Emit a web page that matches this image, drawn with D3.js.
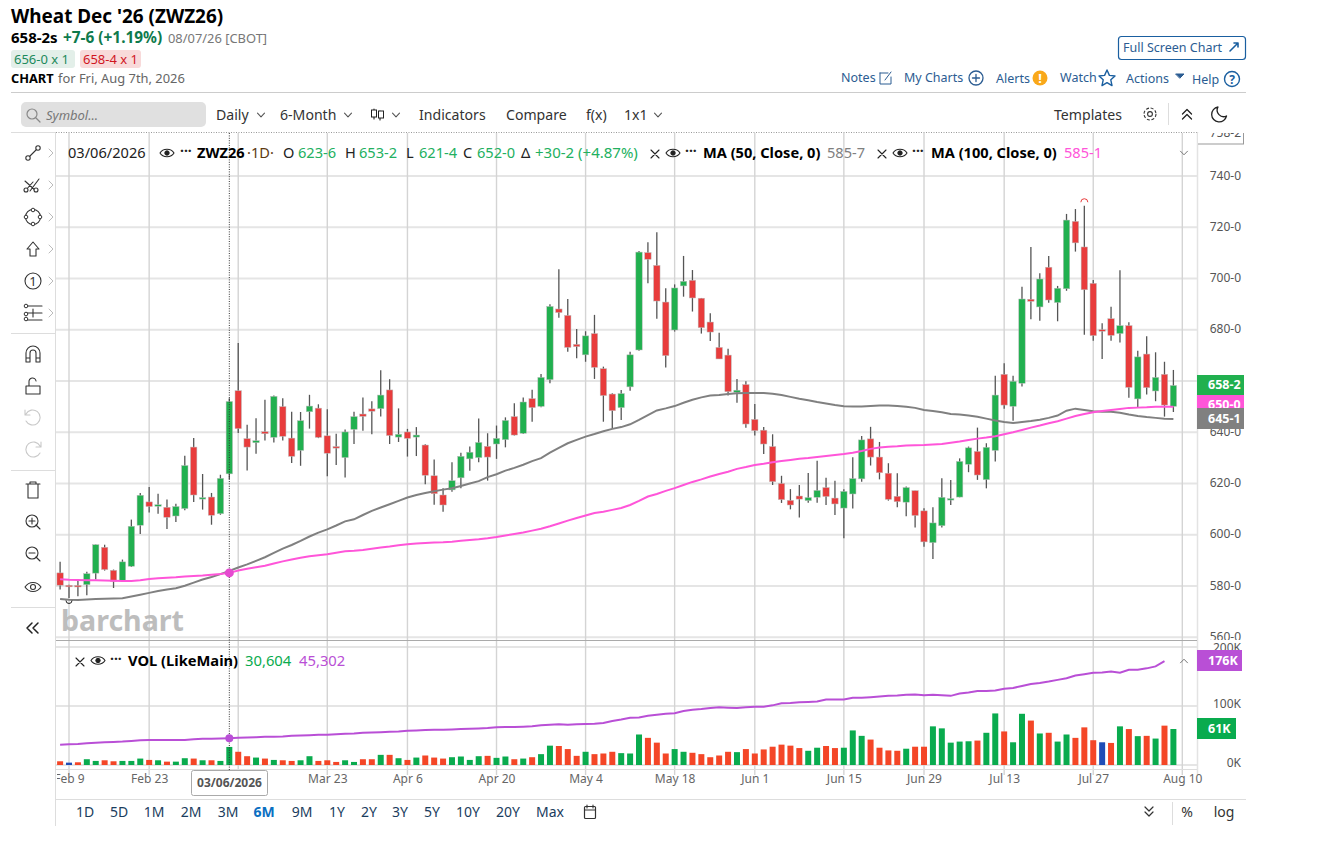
<!DOCTYPE html>
<html lang="en">
<head>
<meta charset="utf-8">
<title>Wheat Dec '26 (ZWZ26)</title>
<script src="https://d3js.org/d3.v7.min.js"></script>
<style>
  body { margin: 0; background: #fff; }
  text { font-family: "Noto Sans", sans-serif; }
</style>
</head>
<body>
<div id="chart"></div>
<script>
// candles, one entry per trading day from Feb 6 to Aug 7
const opens = [585.1,580.25,580.2,580.5,585,595.1,586.1,582.2,587.7,603.7,
  612.8,611.1,610.7,607.3,610.2,634.2,613.9,614.7,608.2,623.75,
  656.2,637.5,635.9,640.2,638,650,637.7,632.9,648,649.4,
  638.6,634.4,630.1,641.1,647.1,649.1,649.2,656.5,638.1,640.1,
  638.1,635,623,615.5,617.5,622.2,629.6,630.1,634.5,635.4,
  637.1,646.1,639.6,653.1,650.1,660.5,688.1,685.6,674.3,670.2,
  678.5,664.8,654.9,649.6,657.7,672.1,710.1,705.1,690.8,679.9,
  697.1,699.3,692.3,683,673.1,670.1,655.6,658.6,645,640.8,
  634.4,620,613.4,615.1,613.3,614.6,618.4,614.3,610.4,615.9,
  621.8,637.4,630.3,624,615,612.7,617.2,609.3,596.9,603.5,
  613.6,614.7,627.5,632.5,621.5,632.9,662.6,650.1,659.1,691.9,
  688.9,704.4,690.6,696,722.3,712.3,698.1,680,684.3,678.5,
  681.6,653,670.5,656.1,662.6,650.1];
const highs = [589.4,580.5,582.5,585.5,596.2,596.1,586.4,590.3,605.9,616.3,
  618.6,616,613.7,612.1,630.8,637.7,623.7,616.3,623.4,653.25,
  674.8,642.9,645.5,652.7,654.3,653.3,648,647.9,654.6,650.9,
  649,639.4,641.1,648,653.6,652.1,664.2,660.7,649.3,641.3,
  642,635.3,629.4,618.1,628.3,632,634.4,645.4,639.6,642.6,
  645.8,651.3,653.6,656.6,662.7,689.9,703.6,692,680.3,679.4,
  685.8,665.6,655.2,656.5,671.4,710.7,714.1,718,696.2,697.7,
  708.8,703.3,692.4,686.4,678.8,672.6,660.8,659.9,651,642,
  639.2,623,617.8,619.4,624.1,628.9,622.2,621.1,617.7,630.2,
  638.5,642.1,636.2,627.9,624,618.8,617.2,610.3,610.7,622,
  621.4,629.8,634.4,641.8,635.7,662,666.9,662,696.8,712.3,
  702,708.8,697.1,725.2,727.1,728.4,699.4,682.5,689,703.2,
  682.9,671.8,677.5,671.2,667.5,664.3];
const lows = [578.6,575.3,576,576.4,582.5,586,579.2,582.2,587.4,600.3,
  608.7,608.2,602.2,605,609.5,612.8,609.8,603.9,607.8,621.5,
  639.7,625.1,631.6,636.8,636,636.8,628,626.9,641.4,637.7,
  622.8,627.2,622.3,635.4,640.6,639.2,646.1,635.4,636.2,630.5,
  630.7,619.7,611.7,609,616.8,618.1,625,628.3,621.1,629.6,
  634.1,638.7,639.3,644.1,649.7,659.1,684.7,671.4,668.9,667.5,
  660.8,644.1,641.5,644.8,656.2,671.8,698.1,684.3,665.3,679.3,
  692.9,687.1,678.5,675.6,668.6,654.3,651.5,641.7,638.7,631.5,
  619.4,612.4,609.9,606.7,612.5,612.5,611.6,607.7,598.6,610.2,
  620.7,627,621.6,613.3,610.7,607.2,602.8,595.3,590.5,602.8,
  611.6,614.6,624.4,621.4,618.1,628.6,649.2,644.5,657.8,684.1,
  683.5,690.5,683.3,695.2,710.5,678,675.7,668.6,675.7,675,
  653.5,649.7,654.7,652.1,646.1,647.9];
const closes = [580.3,580.2,579.9,584.8,596.1,586.4,581.8,589.4,603.3,615.4,
  611,611.7,606.8,611,627,615.5,614.5,607.6,622,652,
  641.4,634.2,636.7,639.4,654,638.4,630.6,644.5,650.2,638,
  631.8,633.8,640.1,646.1,646.2,648.2,654.5,638.7,639.2,637.6,
  638.9,623.2,616,611.6,621.1,630.6,632.2,636,630.3,637.6,
  644.6,638.9,651.8,649.6,661.4,689.1,686.7,673.1,673.4,677.6,
  665.3,654.3,648.4,655.1,670.2,710.3,707.5,691.2,669.9,696.3,
  698.9,692.4,680.8,679.1,668.6,655.8,656.4,643.2,640.6,635.4,
  620.7,613.7,611.6,613.9,614.5,617.3,614.9,612,616.9,621.9,
  637,630.3,624.2,613.8,612.9,618.4,607.5,597.2,604.6,614.6,
  614.1,628.6,633.9,623.3,634.1,654.5,650.6,659.9,692,691.1,
  699.8,691.6,696.2,722.8,713.9,695.6,677.7,679.5,677.8,681.6,
  657.5,669.4,657.4,661.4,650.6,658.25];

// moving averages
const ma50 = [574.9,574.6,574.5,574.7,574.9,575,575.1,575.2,575.9,576.6,
  577.3,578,578.6,579.1,580.1,581.3,582.5,583.5,584.6,585.9,
  587.2,588.4,589.8,591.2,592.9,594.6,596,597.6,599.3,600.8,
  602.1,603.6,605.2,606,607.7,609.3,610.6,611.9,613.2,614.5,
  615.5,616.3,617,617.6,618.1,619,620,620.9,622.5,623.6,
  625,626.1,627.3,628.7,629.9,632,633.9,635.7,637,638.3,
  639.3,640.4,641.3,642,643.1,644.8,646.7,648.5,649.3,650.2,
  651.5,652.7,653.6,654.3,654.5,654.9,655.2,655.3,655.3,655.3,
  655,654.5,653.8,653.1,652.5,651.8,651.2,650.6,650.1,650,
  650,650.2,650.4,650.4,650.2,649.9,649.5,648.7,648.3,647.8,
  647.1,646.9,646.5,646,645.3,644.6,644,643.6,644,644.4,
  644.9,645.6,646.5,648.4,649.2,648.7,648.2,648,648,647.6,
  646.9,646.3,645.9,645.6,645.3,645.2];
const ma100 = [582.6,582.4,582.3,582.2,582.2,582.1,582,581.9,581.9,582.2,
  582.7,583,583.2,583.4,583.7,583.9,584.1,584.4,584.7,585.1,
  586,586.7,587.3,587.9,588.8,589.6,590.3,591,591.6,592,
  592.4,593,593.5,593.7,594,594.5,595,595.4,595.9,596.3,
  596.6,596.8,597,597.1,597.3,597.6,597.9,598.2,598.6,599.1,
  599.7,600.3,600.9,601.6,602.3,603.3,604.4,605.5,606.5,607.5,
  608.5,609,609.7,610.4,611.6,613.2,614.9,615.9,617.1,618.2,
  619.4,620.6,621.6,622.7,623.7,624.6,625.7,626.4,627.2,627.7,
  628.3,628.8,629.2,629.6,629.9,630.3,630.7,631.1,631.5,632,
  632.7,633.5,634,634.3,634.5,634.8,634.9,635,635.2,635.4,
  635.9,636.4,637,637.5,637.9,638.4,639.2,640,640.9,641.8,
  642.6,643.5,644.3,645.3,646.3,647.1,647.8,648.3,648.7,649.1,
  649.5,649.6,649.7,649.9,649.9,649.9];

// volume in thousands, and direction of each volume bar (u up, d down, n unchanged)
const volumes = [6.3,4,4.6,9.8,6.9,8,6.3,6.9,6.9,10.9,
  8.6,8,5.7,5.7,11.5,10.9,8,8,6.9,30.6,
  22.4,14.9,12.6,10.9,8.6,8,6.9,8,14.9,6.9,
  8,5.2,8,5.2,9.8,9.8,17.2,17.2,11.5,8.6,
  12.6,16.1,12.6,10.9,13.2,14.4,8.6,14.9,15.5,12.1,
  14.4,9.8,10.9,13.2,18.4,32.8,32.2,27,15.5,22.4,
  18.4,19.5,22.4,20.1,19.5,51.7,46,37.9,19.5,27,
  22.4,20.7,18.4,13.2,16.1,22.4,21.8,27,19.5,26.4,
  31,34.5,32.8,28.7,24.1,29.3,32.2,28.7,29.3,58.6,
  49.4,43.1,29.3,24.7,24.1,27.6,31,31,65.5,62.1,
  37.9,39.7,40.2,41.4,54.6,87.4,56.9,38.5,86.8,75.3,
  53.4,54.6,39.7,51.7,46,63.8,42,38.5,37.4,65.5,
  60.9,48.9,49.4,44.8,66.7,61];
const volDirs = ('d n d u u d d u u u d u d u u d u d u u d d u d u d d u u d d d u u d d u d u d u d d d u u u u d u u d u d u u d d d u d d d u u u ' +
  'd d d u u d d d d d u d d d d d d d u u d d u u u d d d d u d d u u u u u d u u d u u d u d u u d d d n d u d u d u d u').split(' ');
const volMa = [34.5,35,35.6,36.8,37.9,38.5,39,39.7,40.8,42,
  42.5,42.5,42.5,42.5,42.5,43.7,44.3,44.3,44.8,45.3,
  46,46.6,47.1,47.7,47.7,48.3,49.4,50,50.6,51.1,
  51.1,52.3,52.9,53.4,54.6,55.2,55.7,56.3,56.9,58,
  58.6,59.2,59.8,59.8,60.3,60.9,61.5,62,62.6,63.8,
  64.4,64.4,64.9,65.5,67.2,68.4,69,68.4,69,69.5,
  70.1,71.3,74.7,77,79.9,80.5,83.3,85,86.8,87.9,
  91.4,93.7,94.8,96.6,97.7,97.1,96.6,97.7,98.9,98.9,
  101.1,104.6,105.2,106.3,106.9,107.5,110.9,110.9,110.9,113.8,
  113.8,114.9,116.1,117.2,117.8,119,119.5,118.4,119,118.4,
  117.2,121.3,123,125.3,125.3,126.4,129.3,130.5,133.9,137.4,
  139.1,141.4,144.3,147.1,151.7,154,156.3,156.9,158.6,156.3,
  161.5,161.5,163.8,167.2,175.9];

const priceTicks = [740,720,700,680,660,640,620,600,580,560];
const volTicks = [200,100,0];
const dateTickBars = [1,10,20,30,39,49,59,69,78,88,97,106,116,126];
const dateTickLabels = ['Feb 9','Feb 23','','Mar 23','Apr 6','Apr 20','May 4','May 18','Jun 1','Jun 15','Jun 29','Jul 13','Jul 27','Aug 10'];
const periodButtons = ['1D','5D','1M','2M','3M','6M','9M','1Y','2Y','3Y','5Y','10Y','20Y','Max'];
const periodX = [85,119,154,191,228,264,302,337,369,400,432,468,508,550];

const width = 1333, height = 857;
const paneLeft = 56, paneRight = 1197;
const crossBar = 19;

const x = d3.scaleLinear().domain([0, 126]).range([60.1, 1182.3]);
const y = d3.scaleLinear().domain([560, 740]).range([637.2, 176]);
const yVol = d3.scaleLinear().domain([0, 200]).range([765, 647]);

const upCandle = '#21b04f', downCandle = '#e83c3c';
const volColor = {u: '#09ab4e', d: '#f44627', n: '#1e4db7'};
const maGray = '#808080', maPink = '#ff55d9', volPurple = '#b94fd6';
const uiBlue = '#2b5c92', uiDark = '#333', gridH = '#e5e5e5', gridV = '#d4d4d4';

const svg = d3.select('#chart').append('svg')
  .attr('width', width).attr('height', height)
  .style('display', 'block');
const defs = svg.append('defs');

function label(txt, px, py, size, fill, opts) {
  opts = opts || {};
  return (opts.parent || svg).append('text')
    .attr('x', px).attr('y', py)
    .attr('text-anchor', opts.anchor || 'start')
    .style('font-size', size + 'px')
    .style('font-weight', opts.bold ? 700 : 400)
    .style('font-style', opts.italic ? 'italic' : 'normal')
    .attr('fill', fill)
    .text(txt);
}
function icon(d, px, py, stroke, sw, fill) {
  return svg.append('path').attr('d', d)
    .attr('transform', `translate(${px},${py})`)
    .attr('fill', fill || 'none')
    .attr('stroke', stroke || uiDark)
    .attr('stroke-width', sw || 1.1)
    .attr('stroke-linejoin', 'round')
    .attr('stroke-linecap', 'round');
}
function ring(px, py, r, stroke, sw, fill) {
  return svg.append('circle').attr('cx', px).attr('cy', py).attr('r', r)
    .attr('fill', fill || 'none').attr('stroke', stroke || uiDark).attr('stroke-width', sw || 1.1);
}
function clipBox(id, bx, by, bw, bh) {
  defs.append('clipPath').attr('id', id).append('rect')
    .attr('x', bx).attr('y', by).attr('width', bw).attr('height', bh);
}
const chevronDown = 'M-3.5,-1.8L0,1.8L3.5,-1.8';
const eye = 'M-7,0C-4,-5 4,-5 7,0C4,5 -4,5 -7,0Z';
const cross = 'M-4,-4L4,4M4,-4L-4,4';

// page header
label("Wheat Dec '26 (ZWZ26)", 11, 23, 18.9, '#000', {bold: true});
label('658-2s', 11, 43, 15, '#000', {bold: true});
label('+7-6 (+1.19%)', 63, 43, 15.4, '#0e7a4c', {bold: true});
label('08/07/26 [CBOT]', 168, 43, 12.9, '#777');
svg.append('rect').attr('x', 11).attr('y', 50).attr('width', 64).attr('height', 18).attr('rx', 3).attr('fill', '#e3efe9');
label('656-0 x 1', 14, 64, 13, '#1c8a5c');
svg.append('rect').attr('x', 80).attr('y', 50).attr('width', 61).attr('height', 18).attr('rx', 3).attr('fill', '#f8dada');
label('658-4 x 1', 83, 64, 13, '#d0161f');
label('CHART', 11, 83, 12.8, '#000', {bold: true});
label('for Fri, Aug 7th, 2026', 58, 83, 12.9, '#666');

svg.append('rect').attr('x', 1118.5).attr('y', 36.5).attr('width', 127).attr('height', 23).attr('rx', 3)
  .attr('fill', '#fff').attr('stroke', '#1a5fa0').attr('stroke-width', 1.2);
label('Full Screen Chart', 1123, 52, 12.5, uiBlue);
icon('M-4,4L4,-4M0,-4L4,-4L4,0', 1234, 47, '#1a5fa0', 1.6);

label('Notes', 841, 82, 12.5, uiBlue);
icon('M-6,-5H2M-6,-5V6H5V-1M-1,2L5,-6', 886, 78, uiBlue, 1);
label('My Charts', 904, 82, 12.5, uiBlue);
ring(976, 78, 7, uiBlue, 1.3);
icon('M-3.5,0H3.5M0,-3.5V3.5', 976, 78, uiBlue, 1.3);
label('Alerts', 996, 83, 12.5, uiBlue);
ring(1040, 78, 7.5, 'none', 0, '#f9a81a');
label('!', 1040, 83, 13, '#fff', {anchor: 'middle', bold: true});
label('Watch', 1060, 82, 12.5, uiBlue);
icon('M0,-8L2.4,-2.6L8,-2L3.8,1.8L5,7.6L0,4.6L-5,7.6L-3.8,1.8L-8,-2L-2.4,-2.6Z', 1107, 78, '#1a5fa0', 1.4);
label('Actions', 1126, 83, 12.5, uiBlue);
icon('M-4,-2H4L0,2Z', 1180, 76, uiBlue, 1, uiBlue);
label('Help', 1192, 84, 12.5, uiBlue);
ring(1232, 79, 7.5, '#1a5fa0', 1.4);
label('?', 1232, 83.5, 12, '#1a5fa0', {anchor: 'middle', bold: true});

svg.append('line').attr('x1', 11).attr('x2', 1246).attr('y1', 92.5).attr('y2', 92.5).attr('stroke', '#ccc');

// toolbar
svg.append('rect').attr('x', 21).attr('y', 102).attr('width', 185).attr('height', 25).attr('rx', 5).attr('fill', '#e0e0e0');
ring(32, 114, 5, '#888', 1.2);
icon('M36,118L40,122', 0, 0, '#888', 1.2);
label('Symbol...', 46, 120, 13, '#777', {italic: true});
label('Daily', 216, 120, 14.1, uiDark);
icon(chevronDown, 261, 115, '#555');
label('6-Month', 280, 120, 14.1, uiDark);
icon(chevronDown, 348, 115, '#555');
icon('M-3,-5V-3M-3,3V5M3,-3V-1M3,4V6', 377, 114, '#222');
svg.append('rect').attr('x', 371.5).attr('y', 110).attr('width', 5).attr('height', 7).attr('fill', '#fff').attr('stroke', '#222');
svg.append('rect').attr('x', 378.5).attr('y', 111).attr('width', 5).attr('height', 7).attr('fill', '#fff').attr('stroke', '#222');
icon(chevronDown, 396, 115, '#555');
label('Indicators', 419, 120, 14.1, uiDark);
label('Compare', 506, 120, 14.1, uiDark);
label('f(x)', 586, 120, 14.1, uiDark);
label('1x1', 624, 120, 14.1, uiDark);
icon(chevronDown, 658, 115, '#555');
label('Templates', 1054, 120, 14.1, uiDark);
ring(1150, 114, 2.4, uiDark, 1.1);
ring(1150, 114, 6, uiDark, 1.1).attr('stroke-dasharray', '3 1.7');
svg.append('line').attr('x1', 1168.5).attr('x2', 1168.5).attr('y1', 103).attr('y2', 125).attr('stroke', '#ddd');
icon('M-4.5,0L0,-4.5L4.5,0M-4.5,5L0,0.5L4.5,5', 1187, 114, '#222', 1.3);
icon('M-1,-7A7.5,7.5 0 1 0 7.5,2A6.5,6.5 0 0 1 -1,-7Z', 1219, 114, '#222', 1.3);

// frames around the chart area
svg.append('line').attr('x1', paneLeft).attr('x2', paneRight).attr('y1', 132.5).attr('y2', 132.5)
  .attr('stroke', '#999').attr('stroke-dasharray', '1 1.5');
svg.append('line').attr('x1', 11).attr('x2', paneLeft).attr('y1', 132.5).attr('y2', 132.5).attr('stroke', '#ddd');
svg.append('line').attr('x1', 55.5).attr('x2', 55.5).attr('y1', 132).attr('y2', 826).attr('stroke', '#ddd');
svg.append('line').attr('x1', 1197.5).attr('x2', 1197.5).attr('y1', 132).attr('y2', 775).attr('stroke', '#e3e3e3').attr('stroke-width', 1.5);

// grid
const grid = svg.append('g');
grid.selectAll('line.h').data(priceTicks).enter().append('line')
  .attr('x1', paneLeft).attr('x2', paneRight)
  .attr('y1', d => y(d)).attr('y2', d => y(d))
  .attr('stroke', gridH).attr('stroke-width', 2);
grid.selectAll('line.hv').data(volTicks).enter().append('line')
  .attr('x1', paneLeft).attr('x2', paneRight)
  .attr('y1', d => yVol(d)).attr('y2', d => yVol(d))
  .attr('stroke', gridH).attr('stroke-width', 2);
grid.selectAll('line.v').data(dateTickBars).enter().append('line')
  .attr('x1', d => x(d)).attr('x2', d => x(d))
  .attr('y1', 133).attr('y2', 775)
  .attr('stroke', gridV).attr('stroke-width', 1.4);
svg.append('line').attr('x1', paneLeft).attr('x2', paneRight).attr('y1', 640.5).attr('y2', 640.5).attr('stroke', '#aaa');
svg.append('line').attr('x1', paneLeft).attr('x2', paneRight).attr('y1', 769.5).attr('y2', 769.5).attr('stroke', '#ddd');
svg.append('line').attr('x1', paneLeft).attr('x2', 1246).attr('y1', 799.5).attr('y2', 799.5).attr('stroke', '#ddd');

// watermark
label('barchart', 61, 631, 29, '#bdbdbd', {bold: true}).attr('textLength', 123).attr('lengthAdjust', 'spacingAndGlyphs');

// price axis, the top and bottom labels are cut by the pane
clipBox('price-clip', 1198, 133, 60, 507);
const priceAxis = d3.axisRight(y).tickValues(priceTicks.filter(d => d !== 660)).tickSize(0).tickPadding(0)
  .tickFormat(d => d + '-0');
const priceG = svg.append('g').attr('clip-path', 'url(#price-clip)');
const priceInner = priceG.append('g').attr('transform', 'translate(1241,-0.6)').call(priceAxis);
priceInner.select('.domain').remove();
priceInner.selectAll('text').attr('text-anchor', 'end')
  .style('font-size', '12px').attr('fill', '#555');
priceG.append('rect').attr('x', 1197.5).attr('y', 122).attr('width', 46).attr('height', 22)
  .attr('fill', '#fff').attr('stroke', '#999');
label('758-2', 1241, 137, 12, '#555', {anchor: 'end', parent: priceG});

// volume pane bars and average
const barW = 6;
svg.append('g').selectAll('rect').data(volumes).enter().append('rect')
  .attr('x', (d, i) => x(i) - barW / 2)
  .attr('y', d => yVol(d))
  .attr('width', barW)
  .attr('height', d => yVol(0) - yVol(d))
  .attr('fill', (d, i) => volColor[volDirs[i]]);

svg.append('path').datum(volMa)
  .attr('d', d3.line().x((d, i) => x(i)).y(d => yVol(d)))
  .attr('fill', 'none').attr('stroke', volPurple).attr('stroke-width', 2);

// candles
const candleG = svg.append('g').selectAll('g').data(d3.range(opens.length)).enter().append('g');
candleG.append('line')
  .attr('x1', i => x(i)).attr('x2', i => x(i))
  .attr('y1', i => y(highs[i])).attr('y2', i => y(lows[i]))
  .attr('stroke', '#555').attr('stroke-width', 1.3);
candleG.append('rect')
  .attr('x', i => x(i) - 3.2)
  .attr('y', i => y(Math.max(opens[i], closes[i])))
  .attr('width', 6.4)
  .attr('height', i => Math.max(1.5, Math.abs(y(opens[i]) - y(closes[i]))))
  .attr('fill', i => closes[i] >= opens[i] ? upCandle : downCandle)
  .attr('stroke', '#bbb').attr('stroke-width', 0.5);

// moving averages
const maLine = d3.line().x((d, i) => x(i)).y(d => y(d));
svg.append('path').datum(ma50).attr('d', maLine).attr('fill', 'none').attr('stroke', maGray).attr('stroke-width', 2);
svg.append('path').datum(ma100).attr('d', maLine).attr('fill', 'none').attr('stroke', maPink).attr('stroke-width', 2);

// high and low markers
svg.append('path').attr('d', 'M-3.5,1.5A3.5,3.5 0 0 1 3.5,1.5')
  .attr('transform', `translate(${x(115)},${y(highs[115]) - 5})`)
  .attr('fill', 'none').attr('stroke', '#e83c3c');
svg.append('path').attr('d', 'M-3,-1.5A3,3 0 0 0 3,-1.5')
  .attr('transform', `translate(${x(1)},${y(lows[1]) + 4})`)
  .attr('fill', 'none').attr('stroke', '#222');

// crosshair
svg.append('line').attr('x1', x(crossBar)).attr('x2', x(crossBar)).attr('y1', 133).attr('y2', 770)
  .attr('stroke', '#333').attr('stroke-dasharray', '1 1.4');
svg.append('circle').attr('cx', x(crossBar)).attr('cy', y(ma100[crossBar])).attr('r', 4.5).attr('fill', '#e54bd0');
svg.append('circle').attr('cx', x(crossBar)).attr('cy', yVol(volMa[crossBar])).attr('r', 4).attr('fill', volPurple);

// legend row, price pane
const row = 158, rowSize = 14.6;
label('03/06/2026', 68, row, rowSize, '#222');
icon(eye, 167, 153, '#222', 1.1);
ring(167, 153, 2.2, '#222', 1, '#222');
label('···', 180, row - 2, 14, '#222', {bold: true});
label('ZWZ26', 197, row, rowSize, '#000', {bold: true});
label('·1D·', 247, row, rowSize, '#5d3a10');
label('O', 283, row, rowSize, '#222');
label('623-6', 298, row, rowSize, '#22b060');
label('H', 345, row, rowSize, '#222');
label('653-2', 359, row, rowSize, '#22b060');
label('L', 406, row, rowSize, '#222');
label('621-4', 419, row, rowSize, '#22b060');
label('C', 463, row, rowSize, '#222');
label('652-0', 477, row, rowSize, '#22b060');
label('Δ', 521, row, rowSize, '#222');
label('+30-2 (+4.87%)', 535, row, 15, '#22b060');
icon(cross, 655, 154, '#222', 1.1);
icon(eye, 673, 153, '#222', 1.1);
ring(673, 153, 2.2, '#222', 1, '#222');
label('···', 685, row - 2, 14, '#222', {bold: true});
label('MA (50, Close, 0)', 703, row, rowSize, '#000', {bold: true});
label('585-7', 827, row, rowSize, maGray);
icon(cross, 882, 154, '#222', 1.1);
icon(eye, 900, 153, '#222', 1.1);
ring(900, 153, 2.2, '#222', 1, '#222');
label('···', 912, row - 2, 14, '#222', {bold: true});
label('MA (100, Close, 0)', 931, row, rowSize, '#000', {bold: true});
label('585-1', 1064, row, rowSize, maPink);
icon(chevronDown, 1184, 153, '#777', 1);

// legend row, volume pane
icon(cross, 80, 662, '#222', 1.1);
icon(eye, 98, 660.5, '#222', 1.1);
ring(98, 660.5, 2.2, '#222', 1, '#222');
label('···', 110, 664, 14, '#222', {bold: true});
label('VOL (LikeMain)', 128, 666, 14.7, '#000', {bold: true});
label('30,604', 245, 666, 14.8, '#09ab4e');
label('45,302', 299, 666, 14.8, volPurple);
icon('M-3.5,1.8L0,-1.8L3.5,1.8', 1184, 661, '#777', 1);

// volume axis, 200K is cut by the pane edge
clipBox('vol-clip', 1198, 641, 60, 130);
const volAxis = d3.axisRight(yVol).tickValues(volTicks).tickSize(0).tickPadding(0).tickFormat(d => d + 'K');
const volG = svg.append('g').attr('clip-path', 'url(#vol-clip)');
const volInner = volG.append('g').attr('transform', 'translate(1241,-2)').call(volAxis);
volInner.select('.domain').remove();
volInner.selectAll('text').attr('text-anchor', 'end').attr('dy', d => d === 200 ? '0.5em' : '0.32em')
  .style('font-size', '12px').attr('fill', '#555');

// last value tags
function tag(txt, top, w, h, fill) {
  svg.append('rect').attr('x', 1197).attr('y', top).attr('width', w).attr('height', h).attr('fill', fill);
  label(txt, 1208, top + h / 2 + 4.3, 12.5, '#fff', {bold: true});
}
tag('658-2', 375, 47, 20, upCandle);
tag('650-0', 395, 47, 20, maPink);
tag('645-1', 408, 47, 21, maGray);
tag('176K', 650, 45, 21, volPurple);
tag('61K', 718, 39, 21, '#09ab4e');

// date axis, the first label is cut at the pane edge
clipBox('date-clip', 57, 770, 1190, 30);
const dateAxis = d3.axisBottom(x).tickValues(dateTickBars).tickSize(0).tickPadding(0)
  .tickFormat((d, i) => dateTickLabels[i]);
const dateG = svg.append('g').attr('clip-path', 'url(#date-clip)');
const dateInner = dateG.append('g').attr('transform', 'translate(0,774)').call(dateAxis);
dateInner.select('.domain').remove();
dateInner.selectAll('text').style('font-size', '12px').attr('fill', '#666');

svg.append('rect').attr('x', 191.5).attr('y', 770.5).attr('width', 76).attr('height', 25).attr('rx', 2)
  .attr('fill', '#fff').attr('stroke', '#aaa');
label('03/06/2026', 229.5, 787, 12, '#555', {anchor: 'middle', bold: true});

// period buttons
periodButtons.forEach((p, i) => {
  label(p, periodX[i], 817, 14, p === '6M' ? '#0b6fc2' : '#1b3d5e', {anchor: 'middle', bold: p === '6M'});
});
svg.append('rect').attr('x', 584.5).attr('y', 806.5).attr('width', 11).attr('height', 12).attr('rx', 1).attr('fill', 'none').attr('stroke', uiDark).attr('stroke-width', 1.2);
icon('M584.5,810H595.5M587,805V808M593,805V808', 0, 0, uiDark, 1.1);
icon('M-4,-4L0,0L4,-4M-4,1L0,5L4,1', 1149, 811, uiDark, 1.2);
svg.append('line').attr('x1', 1172.5).attr('x2', 1172.5).attr('y1', 802).attr('y2', 825).attr('stroke', '#ddd');
label('%', 1187, 817, 14, uiDark, {anchor: 'middle'});
label('log', 1224, 817, 14, uiDark, {anchor: 'middle'});

// left drawing tools
const toolY = [153,185,217,249,281,313,354,386,418,450,490,522,554,587,628];
toolY.slice(0, 6).forEach(py => icon('M-2,-4L2,0L-2,4', 51, py, '#bbb', 1));
[333,470,607].forEach(py => svg.append('line').attr('x1', 11).attr('x2', 55).attr('y1', py + 0.5).attr('y2', py + 0.5).attr('stroke', '#ddd'));
icon('M-5,5L5,-5', 33, toolY[0]);
ring(28, toolY[0] + 5, 2.2, uiDark, 1.1, '#fff');
ring(38, toolY[0] - 5, 2.2, uiDark, 1.1, '#fff');
icon('M-8,6L0,-3M-3,6L6,-6M-8,-4L3,6', 33, toolY[1]);
ring(26, toolY[1] + 5, 2, uiDark, 1.1, '#fff');
ring(36, toolY[1] + 5, 2, uiDark, 1.1, '#fff');
ring(33, toolY[2], 7.5, uiDark, 1.1);
[[0,-7],[7,0],[0,7],[-7,0]].forEach(p => ring(33 + p[0], toolY[2] + p[1], 1.8, uiDark, 1, '#fff'));
icon('M0,-7L6,0H3V7H-3V0H-6Z', 33, toolY[3]);
ring(33, toolY[4], 8);
label('1', 33, toolY[4] + 5, 13, uiDark, {anchor: 'middle'});
icon('M-6,-7H9M-6,0H9M-6,7H9M0,-4V4', 33, toolY[5]);
ring(26, toolY[5] - 7, 1.8, uiDark, 1, '#fff');
ring(26, toolY[5] + 1, 1.8, uiDark, 1, '#fff');
ring(26, toolY[5] + 6, 1.8, uiDark, 1, '#fff');
icon('M-7,8V-1A7,7 0 0 1 7,-1V8H3V-1A3,3 0 0 0 -3,-1V8ZM-7,4H-3M3,4H7', 33, toolY[6]);
icon('M-7,0H7V8H-7ZM-4,0V-4A3.5,3.5 0 0 1 3,-5', 33, toolY[7]);
icon('M-7,-4A7.5,7.5 0 1 1 -7,3M-8,-8V-3H-3', 33, toolY[8], '#c8c8c8');
icon('M7,-4A7.5,7.5 0 1 0 7,3M8,-8V-3H3', 33, toolY[9], '#c8c8c8');
icon('M-7,-6H7M-5,-6V8H5V-6M-3,-6V-8H3V-6', 33, toolY[10]);
ring(32, toolY[11] - 1, 6);
icon('M-3,0H3M0,-3V3M4,4L8,8', 32, toolY[11] - 1);
ring(32, toolY[12] - 1, 6);
icon('M-3,0H3M4,4L8,8', 32, toolY[12] - 1);
icon('M-8,0C-4,-6 4,-6 8,0C4,6 -4,6 -8,0Z', 33, toolY[13]);
ring(33, toolY[13], 2.5);
icon('M0,-5L-5,0L0,5M6,-5L1,0L6,5', 32, toolY[14], '#222', 1.5);
</script>
</body>
</html>
